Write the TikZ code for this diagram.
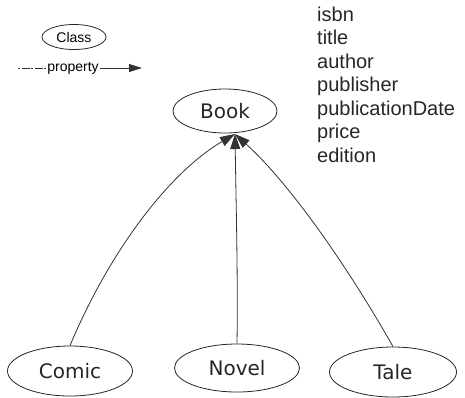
\documentclass[tikz,border=0pt]{standalone}
\usepackage{fontspec}
\setmainfont{Liberation Sans}
\newfontfamily\classfont{DejaVu Sans}
\usetikzlibrary{arrows.meta,shapes.geometric}
\begin{document}
\begin{tikzpicture}[x=1pt,y=-1pt,
  classnode/.style={ellipse,draw=black!85,line width=0.8pt,inner sep=0pt,
    font=\classfont\fontsize{20}{20}\selectfont,text=black!85},
  subarrow/.style={line width=0.8pt,draw=black!80,
    -{Triangle[length=15pt,width=10pt]}},
  attr/.style={anchor=base west,inner sep=0pt,font=\fontsize{20}{20}\selectfont,text=black!85}]
\useasboundingbox (0,0) rectangle (465,397);

% legend
\node[ellipse,draw=black!85,line width=0.8pt,minimum width=64pt,minimum height=25pt,
  inner sep=0pt,font=\fontsize{14}{14}\selectfont] (legclass) at (74,37) {Class};
\node[inner sep=1pt,font=\fontsize{14}{14}\selectfont] (legprop) at (73,68) {property};
\coordinate (legstart) at (18,68);
\coordinate (legend) at (142,68);
\draw[line width=0.8pt,black!80,dash pattern=on 2pt off 2pt on 8pt off 1pt] (legstart) -- (legprop.west);
\draw[line width=0.8pt,black!80,-{Triangle[length=13pt,width=8pt]}] (legprop.east) -- (legend);

% classes
\node[classnode,minimum width=104pt,minimum height=44pt] (book) at (225,111) {Book};
\node[classnode,minimum width=125pt,minimum height=50pt] (comic) at (70,371) {Comic};
\node[classnode,minimum width=125pt,minimum height=48pt] (novel) at (237,368) {Novel};
\node[classnode,minimum width=127pt,minimum height=50pt] (tale) at (393,372) {Tale};

% properties of Book
\node[attr] (p1) at (317,21) {isbn};
\node[attr] (p2) at (317,44.5) {title};
\node[attr] (p3) at (317,68) {author};
\node[attr] (p4) at (317,91.5) {publisher};
\node[attr] (p5) at (317,115) {publicationDate};
\node[attr] (p6) at (317,138.5) {price};
\node[attr] (p7) at (317,162) {edition};

% subclass links
\coordinate (tip) at (235,134);
\draw[subarrow] (comic.north) .. controls (110,250) and (170,172) .. (tip);
\draw[subarrow] (novel.north) .. controls (238,280) and (236,200) .. (tip);
\draw[subarrow] (tale.north) .. controls (345,262) and (288,182) .. (tip);
\end{tikzpicture}
\end{document}
